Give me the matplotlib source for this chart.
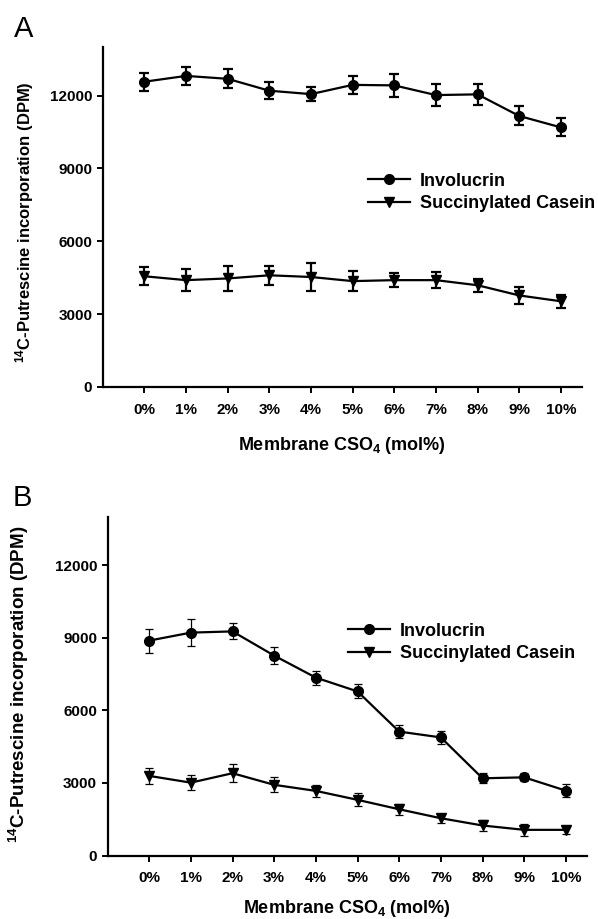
import matplotlib
matplotlib.use("Agg")
import matplotlib.pyplot as plt
import numpy as np

plt.rcParams['font.family'] = ['Liberation Sans', 'DejaVu Sans']
plt.rcParams['mathtext.fontset'] = 'custom'
plt.rcParams['mathtext.rm'] = 'Liberation Sans'
plt.rcParams['mathtext.bf'] = 'Liberation Sans:bold'

categories = ["0%", "1%", "2%", "3%", "4%", "5%", "6%", "7%", "8%", "9%", "10%"]

a_invol = [12570, 12810, 12690, 12200, 12060, 12440, 12420, 12020, 12050, 11160, 10690]
a_invol_err = [370, 360, 385, 360, 280, 385, 480, 460, 425, 390, 375]
a_succ = [4560, 4400, 4470, 4600, 4530, 4360, 4400, 4400, 4190, 3770, 3530]
a_succ_err = [375, 450, 500, 400, 570, 420, 300, 330, 270, 340, 275]

b_invol = [8880, 9210, 9260, 8260, 7350, 6780, 5120, 4880, 3190, 3230, 2680]
b_invol_err = [500, 550, 330, 365, 290, 290, 260, 270, 205, 165, 260]
b_succ = [3290, 3010, 3400, 2920, 2670, 2300, 1910, 1540, 1240, 1060, 1060]
b_succ_err = [325, 310, 380, 315, 260, 275, 220, 190, 240, 240, 165]

yticks = [0, 3000, 6000, 9000, 12000]

W, H = 598, 919
fig = plt.figure(figsize=(W / 100, H / 100), dpi=100)

def px_axes(left, right, top, bottom):
    return fig.add_axes([left / W, 1 - bottom / H, (right - left) / W, (bottom - top) / H])

axA = px_axes(102.7, 581.7, 47, 387)
axB = px_axes(107.5, 586.7, 516.7, 855.5)

x = np.arange(len(categories))

def style(ax, ylab_size, ylab_xy, xlab_xy):
    ax.set_xlim(-1, 10.5)
    ax.set_ylim(0, 14000)
    ax.set_xticks(x)
    ax.set_xticklabels(categories)
    ax.set_yticks(yticks)
    ax.set_yticklabels([str(v) for v in yticks])
    for s in ['top', 'right']:
        ax.spines[s].set_visible(False)
    for s in ['left', 'bottom']:
        ax.spines[s].set_linewidth(1.6)
    ax.tick_params(axis='both', direction='out', length=4.5, width=1.4, labelsize=11)
    ax.tick_params(axis='x', pad=7)
    ax.tick_params(axis='y', pad=3)
    for lab in ax.get_xticklabels() + ax.get_yticklabels():
        lab.set_fontweight('bold')
    ax.set_ylabel(r"$\mathbf{^{14}C}$-Putrescine incorporation (DPM)",
                  fontsize=ylab_size, fontweight='bold')
    ax.yaxis.set_label_coords(*ylab_xy)
    ax.set_xlabel(r"Membrane CSO$\mathbf{_4}$ (mol%)", fontsize=13, fontweight='bold')
    ax.xaxis.set_label_coords(*xlab_xy)

def draw(ax, inv, inv_e, suc, suc_e, err_lw, cap):
    ax.errorbar(x, inv, yerr=inv_e, color='black', lw=1.6, marker='o', ms=7,
                elinewidth=err_lw, capsize=cap, capthick=err_lw, label='Involucrin')
    ax.errorbar(x, suc, yerr=suc_e, color='black', lw=1.6, marker='v', ms=7.5,
                elinewidth=err_lw, capsize=cap, capthick=err_lw, label='Succinylated Casein')

draw(axA, a_invol, a_invol_err, a_succ, a_succ_err, 1.6, 3.5)
draw(axB, b_invol, b_invol_err, b_succ, b_succ_err, 0.9, 3.0)

style(axA, 12, (-0.139, 0.485), (0.5, -0.141))
style(axB, 13.5, (-0.16, 0.506), (0.5, -0.125))

for ax, anchor in ((axA, (0.554, 0.63)), (axB, (0.502, 0.687))):
    h, l = ax.get_legend_handles_labels()
    h = [hh[0] for hh in h]
    ax.legend(h, l, loc='upper left', bbox_to_anchor=anchor, frameon=False,
              borderpad=0, borderaxespad=0, handlelength=2.3, handletextpad=0.55,
              labelspacing=0.3, prop={'family': 'Liberation Sans', 'weight': 'bold', 'size': 13})

fig.text(23.5 / W, 1 - 29 / H, "A", fontsize=21, ha='center', va='center')
fig.text(22 / W, 1 - 497.5 / H, "B", fontsize=21, ha='center', va='center')

fig.savefig("out.png", dpi=100)
